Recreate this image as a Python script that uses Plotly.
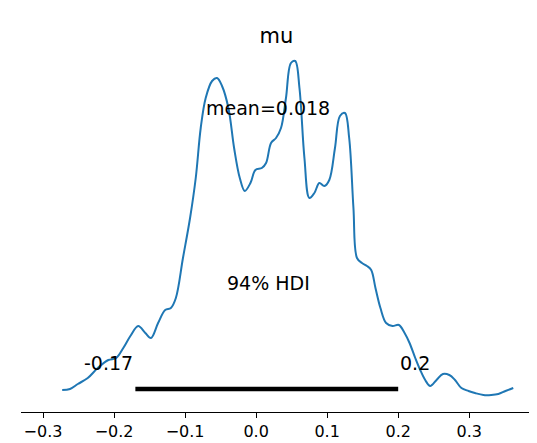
import plotly.graph_objects as go

# posterior density of mu (x value, density height)
mu_x = [-0.273, -0.262, -0.251, -0.237, -0.223, -0.208, -0.197, -0.187, -0.177, -0.166,
        -0.156, -0.148, -0.138, -0.128, -0.120, -0.113, -0.103, -0.093, -0.085, -0.078,
        -0.071, -0.062, -0.055, -0.048, -0.039, -0.031, -0.023, -0.016, -0.008, -0.001,
        0.008, 0.014, 0.021, 0.028, 0.035, 0.042, 0.049, 0.055, 0.061, 0.068,
        0.075, 0.082, 0.089, 0.096, 0.103, 0.111, 0.118, 0.125, 0.131, 0.137,
        0.142, 0.149, 0.156, 0.162, 0.168, 0.175, 0.183, 0.192, 0.201, 0.209,
        0.216, 0.224, 0.231, 0.238, 0.245, 0.254, 0.263, 0.272, 0.280, 0.289,
        0.299, 0.308, 0.320, 0.331, 0.341, 0.351, 0.362]
mu_y = [22, 23, 28, 34, 44, 52, 54, 64, 76, 86,
        79, 74, 89, 102, 104, 114, 154, 194, 234, 284,
        314, 331, 334, 326, 304, 264, 234, 221, 229, 242,
        244, 249, 269, 274, 284, 314, 349, 351, 324, 254,
        214, 219, 229, 226, 232, 264, 296, 299, 274, 204,
        154, 149, 146, 142, 124, 104, 89, 86, 87, 79,
        69, 54, 42, 32, 26, 32, 38, 37, 32, 24,
        21, 19, 17, 17, 18, 21, 24]

hdi = [-0.17, 0.2]
mean_val = 0.018

fig = go.Figure()
fig.add_trace(go.Scatter(x=mu_x, y=mu_y, mode="lines", line=dict(color="#1f77b4", width=2),
                         line_shape="spline", showlegend=False))
fig.add_trace(go.Scatter(x=hdi, y=[23, 23], mode="lines", line=dict(color="black", width=4.5),
                         showlegend=False))

font = dict(family="DejaVu Sans", size=19, color="black")
fig.add_annotation(x=hdi[0], y=36, text="-0.17", showarrow=False, xanchor="right", yanchor="bottom", font=font)
fig.add_annotation(x=hdi[1], y=36, text="0.2", showarrow=False, xanchor="left", yanchor="bottom", font=font)
fig.add_annotation(x=0.017, y=129, text="94% HDI", showarrow=False, font=font)
fig.add_annotation(x=0.017, y=304, text="mean=0.018", showarrow=False, font=font)

tick_vals = [-0.3, -0.2, -0.1, 0.0, 0.1, 0.2, 0.3]
tick_text = ["−0.3", "−0.2", "−0.1", "0.0", "0.1", "0.2", "0.3"]

fig.update_layout(
    width=537, height=443,
    margin=dict(l=13, r=9, t=40, b=39),
    plot_bgcolor="white", paper_bgcolor="white",
    title=dict(text="mu", x=0.5, xanchor="center", y=0.955, font=dict(family="DejaVu Sans", size=21, color="black")),
    xaxis=dict(range=[-0.331, 0.394], tickvals=tick_vals, ticktext=tick_text, ticks="outside",
               ticklen=5, tickcolor="black", showline=True, linecolor="black", linewidth=1,
               showgrid=False, zeroline=False, tickfont=dict(family="DejaVu Sans", size=16, color="black")),
    yaxis=dict(range=[0, 364], visible=False, showgrid=False, zeroline=False),
)

fig.write_html("out.html")
